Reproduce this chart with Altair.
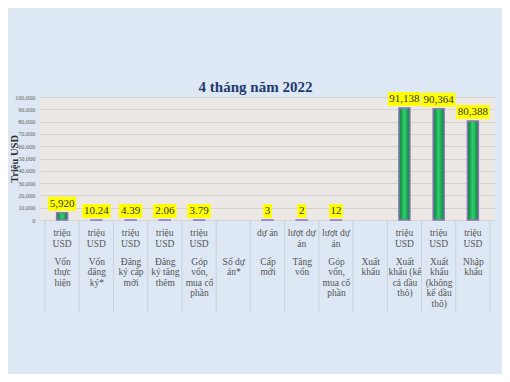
import json
import altair as alt
import pandas as pd

units = ["triệu\nUSD"] * 5 + ["", "dự án", "lượt dự\nán", "lượt dự\nán", ""] + ["triệu\nUSD"] * 3
names = [["Vốn", "thực", "hiện"], ["Vốn", "đăng", "ký*"], ["Đăng", "ký cấp", "mới"], ["Đăng", "ký tăng", "thêm"],
         ["Góp", "vốn,", "mua cổ", "phần"], ["Số dự", "án*"], ["Cấp", "mới"], ["Tăng", "vốn"],
         ["Góp", "vốn,", "mua cổ", "phần"], ["Xuất", "khẩu"], ["Xuất", "khẩu (kể", "cả dầu", "thô)"],
         ["Xuất", "khẩu", "(không", "kể dầu", "thô)"], ["Nhập", "khẩu"]]
values = [5920, 10.24, 4.39, 2.06, 3.79, None, 3, 2, 12, None, 91138, 90364, 80388]
value_labels = ["5,920", "10.24", "4.39", "2.06", "3.79", "", "3", "2", "12", "", "91,138", "90,364", "80,388"]
y_ticks = list(range(0, 100001, 10000))

n = len(values)
label_expr = json.dumps(names, ensure_ascii=False) + "[datum.value]"

rows = [{"idx": i, "value": v, "label": l} for i, (v, l) in enumerate(zip(values, value_labels)) if v is not None]
df = pd.DataFrame(rows)
sep = pd.DataFrame({"s": [i - 0.5 for i in range(n + 1)]})
unit_df = pd.DataFrame({"idx": list(range(n)), "unit": units})

PLOT_W, PLOT_H = 455, 123
LABEL_FONT = "Liberation Serif"
xscale = alt.Scale(domain=[-0.5, n - 0.5], nice=False, zero=False)
yscale = alt.Scale(domain=[0, 100000], nice=False)

xaxis = alt.Axis(values=list(range(n)), labelExpr=label_expr, grid=False, domain=False, ticks=False,
                 title=None, labelFont=LABEL_FONT, labelFontSize=9.5, labelColor="#555555",
                 labelLineHeight=10.5, labelPadding=36, labelAlign="center", labelOverlap=False,
                 labelBound=False)
yaxis = alt.Axis(values=y_ticks, labelExpr="format(datum.value, ',')", title="Triệu USD", titleFont=LABEL_FONT,
                 titleFontSize=10.5, titleFontWeight="bold", titleColor="#333333",
                 titleX=-26, titleY=PLOT_H / 2, titleAngle=270, titleAlign="center", titleBaseline="middle",
                 labelFont=LABEL_FONT, labelFontSize=6.3, labelColor="#666666", labelPadding=5,
                 ticks=False, domain=False, gridColor="#d6d2cf", gridWidth=1, labelOverlap=False)

base = alt.Chart(df)

gradient = alt.Gradient(gradient="linear", x1=0, x2=1, y1=0, y2=0,
                        stops=[alt.GradientStop(color="#0d7a38", offset=0),
                               alt.GradientStop(color="#2fcf6e", offset=0.5),
                               alt.GradientStop(color="#0d7a38", offset=1)])

bars = base.mark_bar(size=11, color=gradient, stroke="#8a76b8", strokeWidth=1.5).encode(
    x=alt.X("idx:Q", scale=xscale, axis=xaxis),
    y=alt.Y("value:Q", scale=yscale, axis=yaxis),
)

boxes = base.transform_calculate(
    hw="(length(datum.label) * 5 + 4) / 70"
).transform_calculate(
    x1="datum.idx - datum.hw", x2="datum.idx + datum.hw"
).mark_rect(color="#ffff00", yOffset=-2, y2Offset=-16).encode(
    x=alt.X("x1:Q", scale=xscale, axis=xaxis), x2="x2:Q",
    y=alt.Y("value:Q", scale=yscale, axis=yaxis), y2="value:Q",
)

texts = base.mark_text(font=LABEL_FONT, fontSize=11, color="#333333", dy=-9, baseline="middle").encode(
    x=alt.X("idx:Q", scale=xscale, axis=xaxis), y=alt.Y("value:Q", scale=yscale, axis=yaxis), text="label:N"
)

unit_text = alt.Chart(unit_df).mark_text(font=LABEL_FONT, fontSize=9.5, color="#555555", baseline="top",
                                         lineBreak="\n", lineHeight=10.5).encode(
    x=alt.X("idx:Q", scale=xscale, axis=xaxis), y=alt.value(PLOT_H + 8), text="unit:N"
)

seps = alt.Chart(sep).mark_rule(color="#c9d2dc", strokeWidth=1).encode(
    x=alt.X("s:Q", scale=xscale, axis=xaxis), y=alt.value(PLOT_H), y2=alt.value(PLOT_H + 92)
)

chart = alt.layer(seps, bars, boxes, texts, unit_text).properties(
    width=PLOT_W, height=PLOT_H,
    title=alt.TitleParams("4 tháng năm 2022", font=LABEL_FONT, fontSize=15, fontWeight="bold",
                          color="#1f3a6e", offset=-3, dx=-12),
    background="#dde8f4",
    padding={"left": 32, "top": 89, "right": 7, "bottom": 154},
    autosize=alt.AutoSizeParams(type="none"),
).configure_view(fill="#ebe8e5", stroke=None)

chart.save("out.html", embed_options={"renderer": "svg", "actions": False})
